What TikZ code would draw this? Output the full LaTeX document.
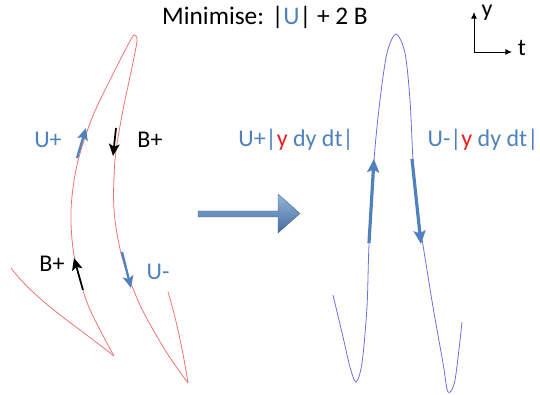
\documentclass[tikz,border=0pt]{standalone}
\usepackage{fontspec}
\setmainfont{Carlito}
\usepackage{xcolor}
\usetikzlibrary{arrows.meta}
\definecolor{offblue}{RGB}{79,129,189}
\definecolor{curvered}{RGB}{240,115,115}
\definecolor{curveblue}{RGB}{110,110,225}
\definecolor{ylabred}{RGB}{235,30,30}
\begin{document}
\begin{tikzpicture}[
  x=0.75pt, y=-0.75pt,
  lbl/.style={font=\fontsize{18}{20}\selectfont, inner sep=0pt},
  ulbl/.style={lbl, text=offblue},
  blbl/.style={lbl, text=black},
  redcurve/.style={curvered, line width=0.6pt},
  bluecurve/.style={curveblue, line width=0.6pt},
  uarr/.style={-{Stealth[length=9pt,width=8pt,inset=2pt]}, offblue, line width=1.7pt},
  barr/.style={-{Stealth[length=9pt,width=8pt,inset=2pt]}, black, line width=1.3pt},
  farr/.style={-{Stealth[length=10pt,width=9pt,inset=2pt]}, offblue, line width=2.4pt},
  axarr/.style={-{Latex[length=5pt,width=4.5pt]}, black, line width=0.7pt},
]
\useasboundingbox (0,0) rectangle (540,395);
\node[lbl, font=\fontsize{19}{21}\selectfont] (title) at (265,17) {Minimise: |\textcolor{offblue}{U}| + 2 B};
\coordinate (origin) at (474,52);
\coordinate (yend) at (474,12);
\coordinate (tend) at (512,52);
\draw[axarr] (origin) -- (yend);
\draw[axarr] (origin) -- (tend);
\node[lbl] (ylab) at (487,13) {y};
\node[lbl] (tlab) at (522,48) {t};
\draw[redcurve] (11,268) .. controls (35,300) and (75,325) .. (114,356);
\draw[redcurve] plot[smooth] coordinates {(114,356) (88,305) (74,255) (71,210) (77,165) (92,118) (113,74) (129,43) (134,35) (137,41) (131,72) (122,115) (115,160) (114,210) (122,257) (140,305) (165,350) (188,383)};
\draw[redcurve] (188,383) .. controls (182,345) and (175,315) .. (168,292);
\coordinate (uplus1) at (77,158);
\coordinate (uplus2) at (86,128);
\coordinate (bplus1) at (116,128);
\coordinate (bplus2) at (113,156);
\coordinate (bplus3) at (83,290);
\coordinate (bplus4) at (74,258);
\coordinate (umin1) at (122,252);
\coordinate (umin2) at (131,288);
\draw[uarr] (uplus1) -- (uplus2);
\draw[barr] (bplus1) -- (bplus2);
\draw[barr] (bplus3) -- (bplus4);
\draw[uarr] (umin1) -- (umin2);
\node[ulbl] (lup) at (48,140) {U+};
\node[blbl] (lbp) at (150,140) {B+};
\node[blbl] (lbp2) at (52,264) {B+};
\node[ulbl] (lum) at (158,272) {U-};
\shade[top color=offblue!60!white, bottom color=offblue!85!black, draw=offblue!80!black, line width=0.3pt]
  (198,211) -- (278,211) -- (278,194) -- (300,213.5) -- (278,233) -- (278,217) -- (198,217) -- cycle;
\draw[bluecurve] plot[smooth] coordinates {(333,295) (343,337) (350,367) (356,382) (362,363) (367,307) (369,245) (374,160) (380,100) (387,53) (396,34) (405,53) (410,100) (413,160) (417,207) (423,245) (433,307) (443,363) (448,392) (455,380) (462,322)};
\coordinate (rup1) at (369,243);
\coordinate (rup2) at (374,159);
\coordinate (rdn1) at (412,159);
\coordinate (rdn2) at (421,244);
\draw[farr] (rup1) -- (rup2);
\draw[farr] (rdn1) -- (rdn2);
\node[ulbl] (rup) at (296,140) {U+|\textcolor{ylabred}{y} dy dt|};
\node[ulbl] (rdn) at (483,140) {U-|\textcolor{ylabred}{y} dy dt|};
\end{tikzpicture}
\end{document}
